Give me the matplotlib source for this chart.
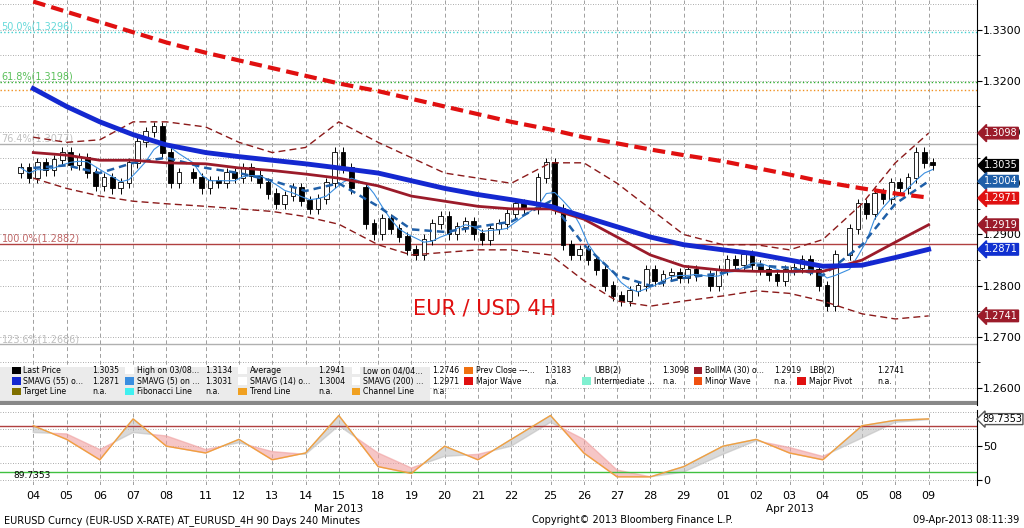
import matplotlib
matplotlib.use("Agg")
import matplotlib.pyplot as plt
import numpy as np
import pandas as pd

days = ["04","05","06","07","08","11","12","13","14","15","18","19","20","21","22",
        "25","26","27","28","29","01","02","03","04","05","08","09"]
week = [0]*5+[1]*5+[2]*5+[3]*5+[4]*4+[5]*2+[5]
closes = [1.3030,1.3010,1.3040,1.3025, 1.3045,1.3060,1.3035,1.3050, 1.3020,1.2995,1.3010,1.2990,
          1.3000,1.3040,1.3080,1.3100, 1.3110,1.3060,1.3000,1.3020, 1.3010,1.2990,1.3005,1.3000,
          1.3020,1.3010,1.3030,1.3015, 1.3000,1.2980,1.2960,1.2975, 1.2990,1.2965,1.2950,1.2970,
          1.3000,1.3060,1.3030,1.2990, 1.2920,1.2900,1.2930,1.2910, 1.2895,1.2870,1.2860,1.2890,
          1.2920,1.2935,1.2900,1.2915, 1.2925,1.2900,1.2890,1.2910, 1.2920,1.2940,1.2960,1.2950,
          1.3010,1.3040,1.2950,1.2880, 1.2860,1.2870,1.2850,1.2830, 1.2800,1.2780,1.2770,1.2790,
          1.2800,1.2830,1.2810,1.2820, 1.2825,1.2815,1.2830,1.2820, 1.2800,1.2830,1.2850,1.2840,
          1.2860,1.2840,1.2830,1.2820, 1.2810,1.2830,1.2835,1.2850, 1.2830,1.2800,1.2760,1.2860,
          1.2910,1.2960,1.2940,1.2980, 1.2970,1.3000,1.2990,1.3010, 1.3060,1.3040,1.3035]
sma200 = [1.3355,1.3335,1.3315,1.3295,1.3275,1.3255,1.3240,1.3225,1.3210,1.3195,1.3180,1.3165,1.3150,
          1.3135,1.3120,1.3105,1.3090,1.3078,1.3066,1.3055,1.3043,1.3030,1.3017,1.3003,1.2990,1.2980,1.2972]
sma55 = [1.3185,1.3150,1.3120,1.3095,1.3075,1.3060,1.3052,1.3045,1.3038,1.3030,1.3020,1.3005,1.2990,
         1.2978,1.2968,1.2955,1.2935,1.2915,1.2895,1.2880,1.2870,1.2862,1.2850,1.2838,1.2840,1.2855,1.2871]
boll = [1.3060,1.3055,1.3045,1.3045,1.3040,1.3038,1.3030,1.3025,1.3018,1.3010,1.2995,1.2975,1.2965,
        1.2955,1.2950,1.2950,1.2930,1.2895,1.2860,1.2838,1.2830,1.2828,1.2828,1.2828,1.2850,1.2885,1.2919]
ubb = [1.3090,1.3080,1.3085,1.3120,1.3120,1.3110,1.3080,1.3060,1.3070,1.3120,1.3080,1.3050,1.3020,
       1.3010,1.3000,1.3040,1.3040,1.3000,1.2950,1.2900,1.2880,1.2880,1.2870,1.2890,1.2960,1.3040,1.3098]
lbb = [1.3010,1.2990,1.2975,1.2965,1.2960,1.2955,1.2950,1.2945,1.2935,1.2920,1.2880,1.2860,1.2865,
       1.2870,1.2870,1.2860,1.2810,1.2770,1.2760,1.2770,1.2780,1.2790,1.2785,1.2770,1.2745,1.2735,1.2741]
sma14 = [1.3030,1.3035,1.3020,1.3040,1.3050,1.3030,1.3020,1.3005,1.2985,1.3000,1.2955,1.2910,1.2905,
         1.2915,1.2925,1.2965,1.2880,1.2820,1.2800,1.2815,1.2825,1.2840,1.2835,1.2820,1.2880,1.2960,1.3004]
osc = [80,60,30,90,50,40,60,30,40,95,20,10,50,30,60,95,40,5,5,20,50,60,40,30,80,88,90]
osc_slow = [70,68,45,70,65,45,55,42,38,80,40,18,35,38,50,85,60,15,5,12,38,58,48,35,62,85,89]

hlines = [(1.3296,"#40d0d0",":","50.0%(1.3296)"),(1.3198,"#30b030",":","61.8%(1.3198)"),
          (1.3183,"#f09020",":",""),(1.3077,"#b0b0b0","-","76.4%(1.3077)"),
          (1.2882,"#b04040","-","100.0%(1.2882)"),(1.2686,"#b0b0b0","-","123.6%(1.2686)")]
tags = [(1.3098,"#9b1b2a","1.3098"),(1.3035,"#000000","1.3035"),(1.3004,"#1f5fa8","1.3004"),
        (1.2971,"#e01010","1.2971"),(1.2919,"#9b1b2a","1.2919"),(1.2871,"#1030d0","1.2871"),
        (1.2741,"#9b1b2a","1.2741")]

pos = np.array([i+0.18*w for i,w in enumerate(week)])
bg = "#ffffff"
fig = plt.figure(figsize=(10.24,5.28), dpi=100, facecolor=bg)
ax = fig.add_axes([0,0.233,0.954,0.767])
ax2 = fig.add_axes([0,0.0814,0.954,0.142])
xl = (-1.0, 28.35)
for a in (ax, ax2):
    a.set_xlim(*xl)
    for p in pos:
        a.axvline(p, color="#a0a0a0", ls=(0,(4,3)), lw=0.7, zorder=0)
    a.yaxis.tick_right()
    a.tick_params(axis="x", length=0, labelbottom=False)
    a.tick_params(axis="y", pad=1, labelsize=8)
    for s in ("top","left","bottom"):
        a.spines[s].set_visible(False)

ax.set_ylim(1.2567, 1.3358)
ax.set_yticks(np.arange(1.26,1.331,0.01))
ax.set_yticklabels([f"{v:.4f}" for v in np.arange(1.26,1.331,0.01)])
ax.set_yticks(np.arange(1.26,1.331,0.005), minor=True)
for v in np.arange(1.26,1.336,0.005):
    ax.axhline(v, color="#909090", ls=(0,(1,2)), lw=0.6, zorder=0)
for v,c,ls,lab in hlines:
    ax.axhline(v, color=c, ls=ls, lw=1.0, zorder=1)
    if lab:
        ax.text(-0.95, v, lab, color=c, fontsize=7, va="bottom", alpha=0.8)

# candles
bx = np.concatenate([pos[i]+np.array([-0.375,-0.125,0.125,0.375]) for i in range(len(days))])[:len(closes)]
cl = np.array(closes); op = np.concatenate([[1.3020], cl[:-1]])
for x,o,c in zip(bx,op,cl):
    ax.vlines(x, min(o,c)-0.0010, max(o,c)+0.0010, color="k", lw=0.7, zorder=3)
    ax.bar(x, abs(c-o)+0.0002, bottom=min(o,c), width=0.14, color="white" if c>=o else "k",
           edgecolor="k", lw=0.6, zorder=4)
sma5 = pd.Series(cl).rolling(5, min_periods=1).mean()
ax.plot(bx, sma5, color="#3a8ee0", lw=0.8, zorder=5)
ax.plot(pos, sma14, color="#1f5fa8", lw=1.8, ls=(0,(3,2)), zorder=5)
ax.plot(pos, ubb, color="#8b1a1a", lw=1.0, ls=(0,(5,3)), zorder=5)
ax.plot(pos, lbb, color="#8b1a1a", lw=1.0, ls=(0,(5,3)), zorder=5)
ax.plot(pos, boll, color="#9b1b2a", lw=2.0, zorder=5)
ax.plot(pos, sma55, color="#1428d0", lw=3.5, zorder=6)
ax.plot(pos, sma200, color="#e01010", lw=3.0, ls=(0,(3,1.5)), zorder=6)
ax.text(11.4, 1.2755, "EUR / USD 4H", color="#e01010", fontsize=15, va="center")

for v,c,t in tags:
    ax.annotate(t, xy=(1.0,v), xycoords=("axes fraction","data"), xytext=(5,0), textcoords="offset points",
                color="white", fontsize=7, va="center", ha="left",
                bbox=dict(boxstyle="larrow,pad=0.08", fc=c, ec=c))

# legend box
ax.add_patch(plt.Rectangle((0,0.01),0.44,0.085, transform=ax.transAxes, fc="#ebebeb", ec="none", zorder=7))
rows = [[("Last Price","#000","1.3035"),("High on 03/08...","#fff","1.3134"),("Average","#fff","1.2941"),
         ("Low on 04/04...","#fff","1.2746"),("Prev Close ---...","#f07010","1.3183"),("UBB(2)","#fff","1.3098"),
         ("BollMA (30) o...","#9b1b2a","1.2919"),("LBB(2)","#fff","1.2741")],
        [("SMAVG (55) o...","#1428d0","1.2871"),("SMAVG (5) on ...","#3a8ee0","1.3031"),("SMAVG (14) o...","#fff","1.3004"),
         ("SMAVG (200) ...","#fff","1.2971"),("Major Wave","#e01010","n.a."),("Intermediate ...","#80f0d0","n.a."),
         ("Minor Wave","#f05010","n.a."),("Major Pivot","#e01010","n.a.")],
        [("Target Line","#807000","n.a."),("Fibonacci Line","#40f0f0","n.a."),("Trend Line","#f0a020","n.a."),
         ("Channel Line","#f0a020","n.a.")]]
xs = [0.012,0.128,0.244,0.36,0.475,0.596,0.71,0.816]
for r,row in enumerate(rows):
    y = 0.085 - r*0.026
    for k,(lab,c,val) in enumerate(row):
        x0 = xs[k]
        ax.add_patch(plt.Rectangle((x0,y-0.009),0.009,0.018, transform=ax.transAxes, fc=c, ec="none", zorder=8))
        ax.text(x0+0.012, y, lab, transform=ax.transAxes, fontsize=5.6, va="center", zorder=9)
        ax.text(x0+0.082, y, val, transform=ax.transAxes, fontsize=5.6, va="center", zorder=9)
ax.axhline(1.2570, color="#888888", lw=3, zorder=9)

# oscillator
ax2.set_ylim(-7, 103)
ax2.set_yticks([0,50]); ax2.set_yticklabels(["0","50"])
for v in [0,25,50,75,100]:
    ax2.axhline(v, color="#909090", ls=(0,(1,2)), lw=0.6, zorder=0)
ax2.axhline(80, color="#b04040", lw=1); ax2.axhline(12, color="#40c040", lw=1)
o = np.array(osc); s = np.array(osc_slow)
ax2.fill_between(pos, o, s, where=o<s, color="#f0a0a0", alpha=0.6, interpolate=True)
ax2.fill_between(pos, o, s, where=o>=s, color="#c0c0c0", alpha=0.6, interpolate=True)
ax2.plot(pos, o, color="#f0a040", lw=1)
ax2.text(-0.6, 0.1, "89.7353", transform=ax2.get_xaxis_transform(), fontsize=6.5)
ax2.annotate("89.7353", xy=(1.0,89.7), xycoords=("axes fraction","data"), xytext=(4,0),
             textcoords="offset points", fontsize=7, va="center",
             bbox=dict(boxstyle="larrow,pad=0.05", fc="white", ec="#555"))

for p,d in zip(pos,days):
    ax2.text(p, -0.08, d, transform=ax2.get_xaxis_transform(), ha="center", va="top", fontsize=8)
ax2.text(pos[9], -0.25, "Mar 2013", transform=ax2.get_xaxis_transform(), ha="center", va="top", fontsize=7.5)
ax2.text(pos[22], -0.25, "Apr 2013", transform=ax2.get_xaxis_transform(), ha="center", va="top", fontsize=7.5)
fig.text(0.004, 0.009, "EURUSD Curncy (EUR-USD X-RATE) AT_EURUSD_4H 90 Days 240 Minutes", fontsize=7)
fig.text(0.52, 0.009, "Copyright\u00a9 2013 Bloomberg Finance L.P.", fontsize=7)
fig.text(0.995, 0.009, "09-Apr-2013 08:11:39", fontsize=7, ha="right")
fig.savefig("out.png", dpi=100, facecolor=bg)
